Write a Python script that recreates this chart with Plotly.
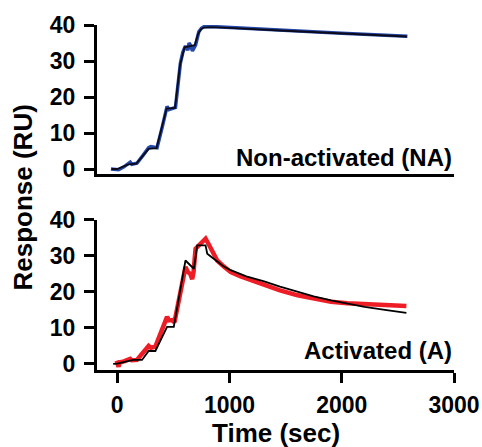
import plotly.graph_objects as go

# ---------------- data ----------------
# Non-activated (NA): measured response and fit
na_time = [-56, -20, 12, 60, 116, 130, 176, 230, 280, 300, 355, 400, 444, 460, 519, 540, 563,
           585, 608, 630, 640, 653, 670, 698, 712, 727, 750, 772, 832, 1000, 1500, 2000, 2585]
na_resp = [0.0, -0.2, -0.2, 0.6, 1.9, 1.3, 1.6, 3.8, 5.9, 6.2, 5.9, 11.5, 17.4, 16.5, 17.1, 23.0, 29.4,
           32.5, 34.2, 33.0, 35.0, 34.4, 32.8, 34.4, 36.8, 38.1, 39.1, 39.5, 39.6, 39.3, 38.5, 37.7, 36.9]
na_fit_time = [-50, 0, 100, 170, 280, 350, 440, 515, 560, 585, 600, 690, 705, 720, 745, 770, 830, 1000, 1500, 2000, 2580]
na_fit_resp = [0.0, 0.0, 1.3, 1.5, 5.6, 5.8, 16.8, 17.0, 29.0, 32.4, 33.8, 34.4, 36.3, 37.5, 38.8, 39.3, 39.4, 39.2, 38.4, 37.6, 36.8]

# Activated (A): measured response and fit
a_time = [-18, 0, 12, 20, 60, 116, 130, 176, 280, 300, 340, 444, 460, 489, 510, 608, 630, 650, 668,
          680, 698, 740, 770, 787, 810, 850, 891, 950, 1011, 1100, 1190, 1309, 1450, 1607, 1750, 1905, 2050,
          2203, 2400, 2576]
a_resp = [0.0, 0.2, -0.9, 0.3, 0.6, 1.3, 0.9, 1.0, 4.9, 4.4, 4.7, 13.0, 12.0, 12.1, 11.5, 26.9, 25.5, 25.0, 23.5,
          25.5, 32.0, 33.5, 34.6, 34.8, 33.5, 31.0, 28.7, 27.0, 25.5, 24.3, 23.3, 22.0, 20.4, 19.0, 18.0, 17.2,
          16.8, 16.5, 16.2, 16.0]
a_fit_time = [-36, 0, 143, 221, 280, 340, 444, 504, 608, 683, 713, 787, 802, 850, 900, 950, 1011, 1150, 1309,
              1450, 1607, 1750, 1905, 2050, 2203, 2400, 2576]
a_fit_resp = [-0.1, 0.0, 1.0, 1.0, 3.5, 3.5, 10.2, 10.2, 28.7, 26.4, 32.9, 32.9, 30.6, 29.3, 28.2, 27.0, 26.0,
              24.3, 22.9, 21.4, 20.0, 18.7, 17.6, 16.7, 15.8, 14.9, 14.1]

x_ticks = [0, 1000, 2000, 3000]
y_ticks = [0, 10, 20, 30, 40]

# ---------------- figure ----------------
FONT = "Liberation Sans, Arial, Helvetica, sans-serif"
BLUE = "#2447a8"
RED = "#ee1c25"

fig = go.Figure()
fig.add_trace(go.Scatter(x=na_time, y=na_resp, mode="lines", line=dict(color=BLUE, width=3.5),
                         xaxis="x", yaxis="y", showlegend=False))
fig.add_trace(go.Scatter(x=na_fit_time, y=na_fit_resp, mode="lines", line=dict(color="#0a0a1a", width=1.8),
                         xaxis="x", yaxis="y", showlegend=False))
fig.add_trace(go.Scatter(x=a_time, y=a_resp, mode="lines", line=dict(color=RED, width=4.5),
                         xaxis="x2", yaxis="y2", showlegend=False))
fig.add_trace(go.Scatter(x=a_fit_time, y=a_fit_resp, mode="lines", line=dict(color="black", width=1.8),
                         xaxis="x2", yaxis="y2", showlegend=False))

tickfont = dict(family=FONT, size=23, color="black", weight=700)
common_y = dict(tickvals=y_ticks, ticks="outside", ticklen=10, tickwidth=3, tickcolor="black",
                showline=True, linewidth=3, linecolor="black", showgrid=False, zeroline=False,
                tickfont=tickfont, ticklabelstandoff=4, automargin=False)

fig.update_layout(
    width=482, height=447,
    margin=dict(l=97, r=28, t=25, b=77, autoexpand=False),
    paper_bgcolor="white", plot_bgcolor="white",
    xaxis=dict(domain=[0, 1], range=[-180, 3000], anchor="y", showline=True, linewidth=3, linecolor="black",
               showticklabels=False, ticks="", showgrid=False, zeroline=False, automargin=False),
    yaxis=dict(**common_y, range=[-1.4, 40], domain=[0.568, 1.0], anchor="x"),
    xaxis2=dict(domain=[0, 1], range=[-180, 3000], anchor="y2", tickvals=x_ticks, ticks="outside", ticklen=10,
                tickwidth=3, tickcolor="black", showline=True, linewidth=3, linecolor="black", showgrid=False,
                zeroline=False, tickfont=tickfont, ticklabelstandoff=2, automargin=False),
    yaxis2=dict(**common_y, range=[-1.8, 40], domain=[0.0, 0.435], anchor="x2"),
)

fig.add_annotation(text="Non-activated (NA)", xref="paper", x=1.0, xanchor="right", yref="y", y=3.3,
                   yanchor="middle", showarrow=False, font=dict(family=FONT, size=24, color="black", weight=700))
fig.add_annotation(text="Activated (A)", xref="paper", x=1.0, xanchor="right", yref="y2", y=3.75,
                   yanchor="middle", showarrow=False, font=dict(family=FONT, size=24, color="black", weight=700))
fig.add_annotation(text="Time (sec)", xref="paper", x=0.5, xanchor="center", yref="paper", y=-0.183,
                   yanchor="middle", showarrow=False, font=dict(family=FONT, size=26, color="black", weight=700))
fig.add_annotation(text="Response (RU)", xref="paper", x=-0.21, xanchor="center", yref="paper", y=0.5,
                   yanchor="middle", textangle=-90, showarrow=False,
                   font=dict(family=FONT, size=26, color="black", weight=700))

fig.write_html("out.html", config={"displayModeBar": False},
               post_script="document.body.style.margin='0px';")
